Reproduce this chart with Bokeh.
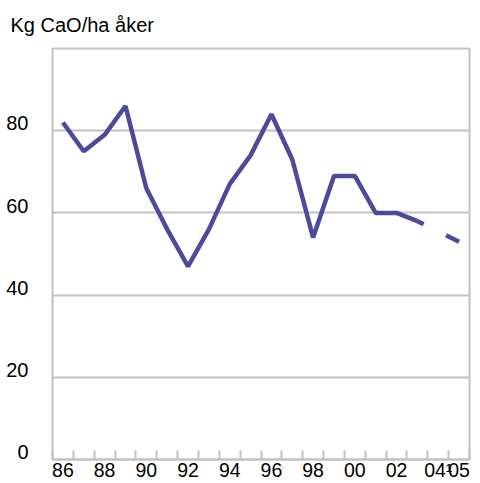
from bokeh.plotting import figure
from bokeh.models import Range1d, FixedTicker, LinearAxis
from bokeh.embed import file_html
from bokeh.resources import INLINE

years = list(range(1986, 2006))
values = [82, 75, 79, 86, 66, 56, 47, 56, 67, 74, 84, 73, 54, 69, 69, 60, 60, 58, 55.5, 53]
label_years = [1986, 1988, 1990, 1992, 1994, 1996, 1998, 2000, 2002, 2004, 2005]
label_texts = ["86", "88", "90", "92", "94", "96", "98", "00", "02", "04\u00b9", "05"]
y_ticks = [0, 20, 40, 60, 80]
unit_title = "Kg CaO/ha åker"

FONT = "Liberation Sans"
LINE = "#4b4b9b"
GREY = "#c2c2c2"
LABEL_LIFT = 1.8  # y labels sit just above their grid lines, as in the original

p = figure(width=480, height=483, output_backend="svg", toolbar_location=None,
           x_range=Range1d(1985.5, 2005.5), y_range=Range1d(0, 100),
           min_border_left=52, min_border_right=11, min_border_top=48, min_border_bottom=21,
           title=unit_title)
p.title.text_font = FONT
p.title.text_font_size = "20px"
p.title.text_font_style = "normal"
p.title.text_color = "#000000"
p.title.align = "left"
p.title.offset = -42
p.title.vertical_align = "top"
p.title.standoff = 22

p.outline_line_color = GREY
p.outline_line_width = 2
p.background_fill_color = "white"
p.border_fill_color = "white"

# x axis 1: tick marks at the year boundaries, no labels
xa = p.xaxis[0]
xa.ticker = FixedTicker(ticks=[y - 0.5 for y in years] + [years[-1] + 0.5])
xa.major_tick_in = 9
xa.major_tick_out = 0
xa.major_tick_line_color = GREY
xa.major_tick_line_width = 2
xa.minor_tick_line_color = None
xa.axis_line_color = GREY
xa.axis_line_width = 2
xa.major_label_standoff = 0
xa.major_label_text_font_size = "0px"
xa.major_label_text_color = None

# x axis 2: labels at the year centres
xb = LinearAxis(ticker=FixedTicker(ticks=label_years))
xb.major_label_overrides = {y: t for y, t in zip(label_years, label_texts)}
xb.major_tick_line_color = None
xb.minor_tick_line_color = None
xb.axis_line_color = None
xb.major_label_standoff = -7
xb.major_label_text_font = FONT
xb.major_label_text_font_size = "19.5px"
xb.major_label_text_color = "#000000"
p.add_layout(xb, "below")

# y axis (labels only)
ya = p.yaxis[0]
ya_pos = [t + LABEL_LIFT for t in y_ticks]
ya.ticker = FixedTicker(ticks=ya_pos)
ya.major_label_overrides = {pos: str(t) for pos, t in zip(ya_pos, y_ticks)}
ya.axis_line_color = None
ya.major_tick_line_color = None
ya.minor_tick_line_color = None
ya.major_label_standoff = 18
ya.major_label_text_font = FONT
ya.major_label_text_font_size = "20px"
ya.major_label_text_color = "#000000"

p.xgrid.grid_line_color = None
p.ygrid.ticker = FixedTicker(ticks=y_ticks)
p.ygrid.grid_line_color = GREY
p.ygrid.grid_line_width = 2

# solid part 86-03, dashed 03-05
p.line(years[:18], values[:18], line_color=LINE, line_width=4.5)
p.line(years[17:], values[17:], line_color=LINE, line_width=4.5, line_dash="7 25 30")

open("out.html", "w").write(file_html(p, INLINE))
